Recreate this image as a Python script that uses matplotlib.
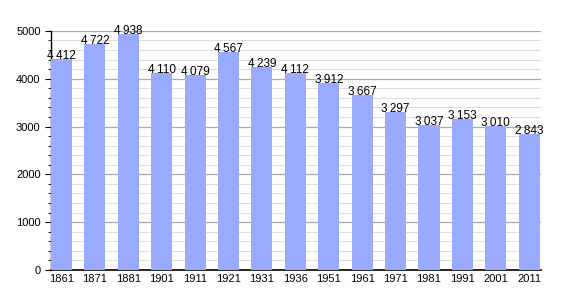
import matplotlib
matplotlib.use("Agg")
from matplotlib import pyplot as plt
from matplotlib.ticker import MultipleLocator

plt.rcParams["font.family"] = ["Liberation Sans", "DejaVu Sans"]

years = ["1861", "1871", "1881", "1901", "1911", "1921", "1931", "1936",
         "1951", "1961", "1971", "1981", "1991", "2001", "2011"]
population = [4412, 4722, 4938, 4110, 4079, 4567, 4239, 4112,
              3912, 3667, 3297, 3037, 3153, 3010, 2843]

fig = plt.figure(figsize=(5.7, 3.0), dpi=100)
ax = fig.add_axes([0.0895, 0.1, 0.86, 0.797])

x = range(len(years))
ax.bar(x, population, width=0.63, color="#99aaff", zorder=3)

for i, v in zip(x, population):
    label = f"{v:,}".replace(",", "\u2009")
    ax.text(i, v, label, ha="center", va="baseline", fontsize=8.5,
            color="black", zorder=4)

ax.set_xlim(-0.315, len(years) - 0.64)
ax.set_ylim(0, 5000)
ax.set_xticks(list(x))
ax.set_xticklabels(years, fontsize=8)
ax.yaxis.set_major_locator(MultipleLocator(1000))
ax.yaxis.set_minor_locator(MultipleLocator(200))
ax.tick_params(axis="y", labelsize=8, length=4, width=0.8)
ax.tick_params(axis="y", which="minor", length=2, width=0.6)
ax.tick_params(axis="x", length=0, pad=3)

ax.grid(axis="y", which="major", color="#aaaaaa", linewidth=0.9, zorder=1)
ax.grid(axis="y", which="minor", color="#dddddd", linewidth=0.7, zorder=1)

for side in ["top", "right"]:
    ax.spines[side].set_visible(False)
ax.spines["left"].set_linewidth(1)
ax.spines["bottom"].set_linewidth(1.2)

fig.savefig("out.png", dpi=100)
